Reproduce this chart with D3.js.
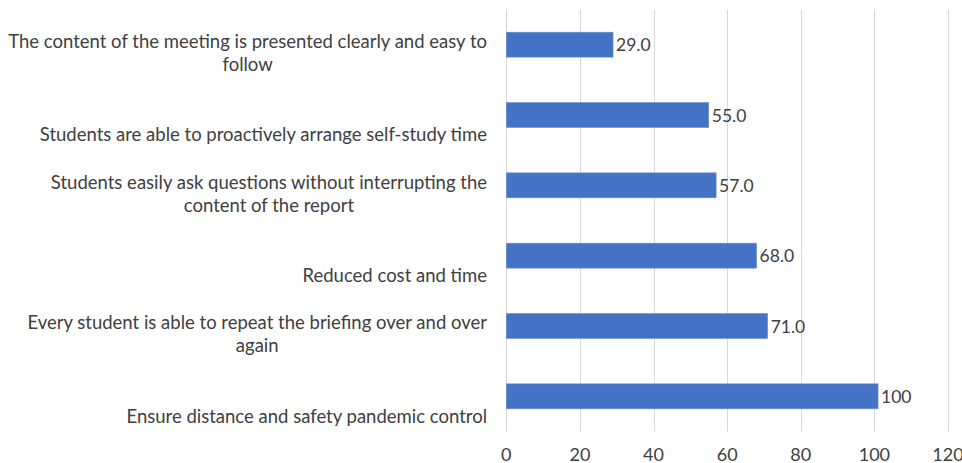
<!DOCTYPE html>
<html lang="en">
<head>
  <meta charset="UTF-8" />
  <title>Online briefing benefits</title>
  <script src="https://d3js.org/d3.v7.min.js"></script>
  <style>
    body {
      margin: 0;
      padding: 0;
      background-color: #fff;
    }
    svg {
      display: block;
      font-family: Lato, sans-serif;
    }
    .grid line {
      stroke: #d9d9d9;
      stroke-width: 1px;
    }
    .cat-label, .value-label, .tick-label {
      fill: #404040;
    }
    .cat-label { font-size: 18.5px; }
    .value-label { font-size: 17.5px; }
    .tick-label { font-size: 18px; }
  </style>
</head>
<body>
  <svg width="962" height="463"></svg>

  <script>
    // categories top -> bottom, with their values
    const categories = [
      "The content of the meeting is presented clearly and easy to follow",
      "Students are able to proactively arrange self-study time",
      "Students easily ask questions without interrupting the content of the report",
      "Reduced cost and time",
      "Every student is able to repeat the briefing over and over again",
      "Ensure distance and safety pandemic control"
    ];
    // last bar is drawn slightly past the 100 gridline in the original
    const values = [29, 55, 57, 68, 71, 101];
    const valueLabels = ["29.0", "55.0", "57.0", "68.0", "71.0", "100"];
    const xTicks = [0, 20, 40, 60, 80, 100, 120];

    const svg = d3.select("svg");

    const plotTop = 9.5;
    const plotBottom = 431.5;
    const labelRight = 487;
    const wrapWidth = 484;

    const x = d3.scaleLinear()
      .domain([0, 120])
      .range([506.3, 948]);

    const y = d3.scaleBand()
      .domain(categories)
      .range([plotTop, plotBottom])
      .paddingInner(0.645)
      .paddingOuter(0.3225);

    // gridlines
    svg.append("g").attr("class", "grid")
      .selectAll("line")
      .data(xTicks)
      .enter().append("line")
      .attr("x1", d => Math.round(x(d)) + 0.5)
      .attr("x2", d => Math.round(x(d)) + 0.5)
      .attr("y1", plotTop)
      .attr("y2", plotBottom);

    // x tick labels sit right on the bottom edge
    svg.append("g")
      .selectAll("text")
      .data(xTicks)
      .enter().append("text")
      .attr("class", "tick-label")
      .attr("x", d => x(d))
      .attr("y", 461)
      .attr("text-anchor", "middle")
      .text(d => d);

    // bars
    svg.append("g")
      .selectAll("rect")
      .data(values)
      .enter().append("rect")
      .attr("x", x(0))
      .attr("y", (d, i) => y(categories[i]))
      .attr("width", d => x(d) - x(0))
      .attr("height", y.bandwidth())
      .attr("fill", "#4472c4")
      .attr("stroke", "#6d8fd0")
      .attr("stroke-width", 0.6);

    // value labels
    svg.append("g")
      .selectAll("text")
      .data(values)
      .enter().append("text")
      .attr("class", "value-label")
      .attr("x", d => x(d) + 3)
      .attr("y", (d, i) => y(categories[i]) + y.bandwidth() / 2)
      .attr("dy", "0.38em")
      .text((d, i) => valueLabels[i]);

    // category labels, wrapped, lines centred, block right-aligned
    const catG = svg.append("g");
    categories.forEach(cat => {
      const t = catG.append("text").attr("class", "cat-label");
      const words = cat.split(" ");
      const lines = [];
      let line = [];
      const probe = t.append("tspan");
      words.forEach(w => {
        line.push(w);
        probe.text(line.join(" "));
        if (probe.node().getComputedTextLength() > wrapWidth && line.length > 1) {
          line.pop();
          lines.push(line.join(" "));
          line = [w];
        }
      });
      lines.push(line.join(" "));
      probe.remove();

      const widths = lines.map(l => {
        const s = t.append("tspan").text(l);
        const w = s.node().getComputedTextLength();
        s.remove();
        return w;
      });
      const cx = labelRight - d3.max(widths) / 2;
      const lineH = 23;
      const lastY = y(cat) + y.bandwidth() / 2 + 20;
      lines.forEach((l, i) => {
        t.append("tspan")
          .attr("x", cx)
          .attr("y", lastY - (lines.length - 1 - i) * lineH)
          .attr("dy", "0.35em")
          .attr("text-anchor", "middle")
          .text(l);
      });
    });
  </script>
</body>
</html>
